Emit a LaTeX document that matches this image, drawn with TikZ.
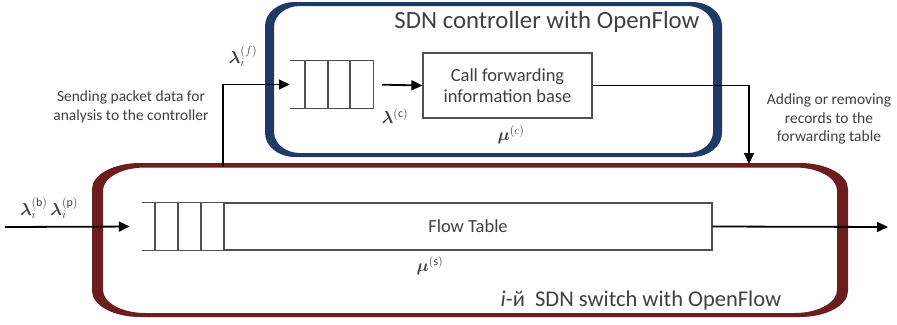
\documentclass[tikz,border=0pt]{standalone}
\usepackage{bm}
\usepackage{fontspec}
\setmainfont{Carlito}
\usetikzlibrary{arrows.meta}

\definecolor{ctrlblue}{RGB}{31,58,102}
\definecolor{swred}{RGB}{108,30,30}
\definecolor{txtgray}{RGB}{64,64,64}
\definecolor{qgray}{RGB}{80,80,80}

% rounded rectangle with elliptical corners: x1,y1,x2,y2,rx,ry (y grows downward)
\newcommand\ovalrect[6]{(#1+#5,#2) -- (#3-#5,#2)
  arc[start angle=270,end angle=360,x radius=#5,y radius=#6] -- (#3,#4-#6)
  arc[start angle=0,end angle=90,x radius=#5,y radius=#6] -- (#1+#5,#4)
  arc[start angle=90,end angle=180,x radius=#5,y radius=#6] -- (#1,#2+#6)
  arc[start angle=180,end angle=270,x radius=#5,y radius=#6] -- cycle}

\begin{document}
\begin{tikzpicture}[x=1pt,y=-1pt,
  arr/.style={line width=1.8pt,-{Triangle[length=11pt,width=10pt]}},
  qline/.style={line width=1.2pt,draw=qgray},
  block/.style={draw=qgray,line width=1.2pt,inner sep=0pt,align=center,
    text=txtgray,font=\fontsize{18.5}{23}\selectfont},
  lbl/.style={text=txtgray,inner sep=0pt,font=\fontsize{15.5}{18.5}\selectfont,align=center},
  title/.style={text=txtgray,inner sep=0pt,font=\fontsize{24.8}{29}\selectfont},
  sym/.style={text=txtgray,inner sep=0pt,font=\fontsize{17}{20}\selectfont}]

\useasboundingbox (0,0) rectangle (897,324);

% controller frame (thick sides, thin top and bottom)
\fill[ctrlblue,even odd rule] \ovalrect{265}{2}{722}{157}{30}{24}
  \ovalrect{274}{6}{713}{153}{26}{21};
% switch frame
\fill[swred,even odd rule] \ovalrect{92}{163}{848}{317}{48}{26}
  \ovalrect{103}{167.5}{837}{313}{42}{23};

\node[title] (ctitle) at (547,22) {SDN controller with OpenFlow};
\node[title,font=\fontsize{22.5}{27}\selectfont] (stitle) at (641,300)
  {\textit{i}-й\ \ SDN switch with OpenFlow};

% controller queue and forwarding base
\node[minimum width=83pt,minimum height=48pt,inner sep=0pt] (cq) at (331.5,84.5) {};
\draw[qline] (cq.north west) -- (cq.north east) -- (cq.south east) -- (cq.south west);
\foreach \x in {305,328,350}
  \draw[qline] (\x,61) -- (\x,108);
\node[block,minimum width=169pt,minimum height=65pt] (fib) at (507.5,85.5)
  {Call forwarding\\[-2pt]information base};

% switch queue and flow table
\node[minimum width=82pt,minimum height=47pt,inner sep=0pt] (sq) at (183,226.5) {};
\draw[qline] (sq.north west) -- (sq.north east);
\draw[qline] (sq.south west) -- (sq.south east);
\foreach \x in {155,178,201}
  \draw[qline] (\x,203) -- (\x,250);
\node[block,minimum width=488pt,minimum height=47pt] (ftab) at (468,226.5) {Flow Table};

% free ends of the connectors
\coordinate (srcin) at (5,227);
\coordinate (sinkout) at (888,227);
\coordinate (upfoot) at (223,167);
\coordinate (downtip) at (749,164);

% connectors
\draw[arr,shorten >=12pt] (srcin) -- (sq.west);
\draw[arr] (ftab.east) -- (sinkout);
\draw[arr] (upfoot) |- (cq.west);
\draw[arr,shorten <=9pt] (cq.east) -- (fib.west);
\draw[arr] (fib.east) -| (downtip);

% rates
\node[sym] (lf) at (243,56) {$\bm{\lambda}_i^{(f)}$};
\node[sym] (lc) at (395,116) {$\bm{\lambda}^{(\mathrm{c})}$};
\node[sym] (mc) at (511,135) {$\bm{\mu}^{(c)}$};
\node[sym] (lbp) at (49,208) {$\bm{\lambda}_i^{(\mathrm{b})}\,\bm{\lambda}_i^{(\mathrm{p})}$};
\node[sym] (ms) at (430,266) {$\bm{\mu}^{(\mathrm{s})}$};

% remarks
\node[lbl] (sendtxt) at (131,107) {Sending packet data for\\analysis to the controller};
\node[lbl] (addtxt) at (829,119) {Adding or removing\\records to the\\forwarding table};
\end{tikzpicture}
\end{document}
